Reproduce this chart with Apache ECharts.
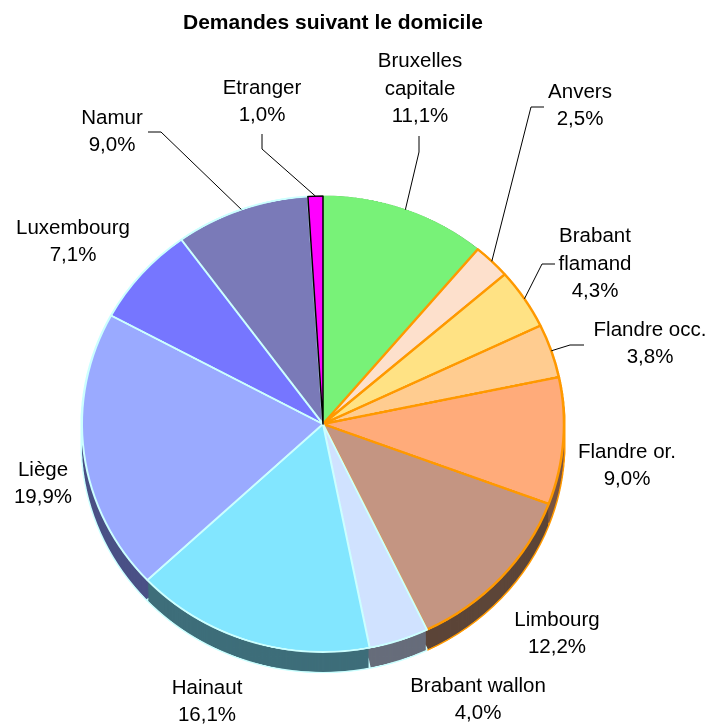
<!DOCTYPE html>
<html>
<head>
<meta charset="utf-8">
<script src="https://cdn.jsdelivr.net/npm/echarts@6/dist/echarts.min.js"></script>
<style>
  html, body { margin: 0; padding: 0; background: #ffffff; }
  #wrap { position: relative; width: 719px; height: 727px; overflow: hidden; }
  #disc, #labels { position: absolute; left: 0; top: 0; width: 719px; height: 727px; }
  /* the disc is seen slightly from above: flatten it vertically around its centre */
  #disc { transform: scaleY(0.946); transform-origin: 0 424px; }
</style>
</head>
<body>
<div id="wrap">
  <div id="disc"></div>
  <div id="labels"></div>
</div>
<script>
// Requests by place of residence (share of total, %)
const categories = ['Bruxelles capitale', 'Anvers', 'Brabant flamand', 'Flandre occ.', 'Flandre or.',
  'Limbourg', 'Brabant wallon', 'Hainaut', 'Liège', 'Luxembourg', 'Namur', 'Etranger'];
const shares = [11.1, 2.5, 4.3, 3.8, 9.0, 12.2, 4.0, 16.1, 19.9, 7.1, 9.0, 1.0];

// Two-line labels break the name at its space
const wrapped = ['Bruxelles capitale', 'Brabant flamand'];

// Slice styling
const topColors = ['#78f278', '#fde0cc', '#ffe284', '#ffcc90', '#ffab7a', '#c49582',
  '#d0e2ff', '#82e6ff', '#9aaaff', '#7676ff', '#7a7ab8', '#ff00ff'];
const sideColors = ['#3c7a3c', '#7a6a60', '#7a6a40', '#7a6040', '#7a5440', '#5c4538',
  '#676d7b', '#3e6e7a', '#4a5186', '#38387a', '#3a3a5c', '#7a007a'];
const edgeColors = ['#78f278', '#ff9900', '#ff9900', '#ff9900', '#ff9900', '#ff9900',
  '#ccffff', '#ccffff', '#ccffff', '#ccffff', '#ccffff', '#000000'];
const edgeWidths = [1, 2.5, 2.5, 2.5, 2.5, 2.5, 2, 2, 2, 2, 2, 1.5];
const sideEdgeColors = ['#3c7a3c', '#ff9900', '#ff9900', '#ff9900', '#ff9900', '#ff9900',
  '#ccffff', '#ccffff', '#ccffff', '#ccffff', '#ccffff', '#000000'];

// Label placement (text block centres) and leader-line elbows
const labelCenters = [[420, 89], [580, 106], [595, 264], [650, 344], [627, 466], [557, 634],
  [478, 700], [207, 702], [43, 484], [73, 242], [112, 132], [262, 102]];
const leaderBends = [[[419, 152], [419, 136]], [[531, 107], [544, 107]], [[542, 264], [555, 264]],
  [[570, 345], [584, 345]], null, null, null, null, null, null,
  [[161, 132], [148, 132]], [[262, 149], [262, 134]]];

const CX = 323, CY = 424, R = 241, FLAT = 0.946, DEPTH = 21;
const FONT = 'Arial, "Liberation Sans", sans-serif';

function fmtPct(v) { return v.toFixed(1).replace('.', ',') + '%'; }

// ---- Disc: top face plus extruded side ----
const discSeries = [];
// Edge colour showing through the gaps of the side (slice separators + rim)
for (let k = DEPTH; k >= 1; k--) {
  discSeries.push({
    type: 'pie', silent: true, z: 1, animation: false,
    center: [CX, CY + k], radius: R + 1.5, startAngle: 90, clockwise: true,
    label: { show: false }, labelLine: { show: false },
    emphasis: { disabled: true },
    data: categories.map((n, i) => ({ name: n, value: shares[i], itemStyle: { color: sideEdgeColors[i] } }))
  });
}
// Darker side wall
for (let k = DEPTH; k >= 1; k--) {
  discSeries.push({
    type: 'pie', silent: true, z: 2, animation: false,
    center: [CX, CY + k], radius: R, startAngle: 90, clockwise: true, padAngle: 0.5,
    label: { show: false }, labelLine: { show: false },
    emphasis: { disabled: true },
    data: categories.map((n, i) => ({ name: n, value: shares[i], itemStyle: { color: sideColors[i] } }))
  });
}
// Top face
discSeries.push({
  type: 'pie', silent: true, z: 3, animation: false,
  center: [CX, CY], radius: R, startAngle: 90, clockwise: true,
  label: { show: false }, labelLine: { show: false },
  emphasis: { disabled: true },
  data: categories.map((n, i) => ({
    name: n, value: shares[i],
    itemStyle: { color: topColors[i], borderColor: edgeColors[i], borderWidth: edgeWidths[i] }
  }))
});

const disc = echarts.init(document.getElementById('disc'), null, { renderer: 'canvas', devicePixelRatio: 2 });
disc.setOption({ animation: false, series: discSeries });

// ---- Title and labels (same pie geometry, invisible slices) ----
const labels = echarts.init(document.getElementById('labels'), null, { renderer: 'canvas' });
labels.setOption({
  animation: false,
  title: {
    text: 'Demandes suivant le domicile',
    left: 178, top: 8,
    textStyle: { fontFamily: FONT, fontSize: 21, fontWeight: 'bold', color: '#000' }
  },
  series: [{
    type: 'pie', silent: true, animation: false,
    center: [CX, CY], radius: R, startAngle: 90, clockwise: true,
    avoidLabelOverlap: false,
    emphasis: { disabled: true },
    itemStyle: { color: 'rgba(0,0,0,0)' },
    label: {
      show: true, position: 'outside', color: '#000', fontFamily: FONT, fontSize: 20.5,
      lineHeight: 27.5, align: 'center',
      formatter: p => (wrapped.includes(p.name) ? p.name.replace(' ', '\n') : p.name) + '\n' + fmtPct(p.value)
    },
    labelLine: { show: true, lineStyle: { color: '#000', width: 1 } },
    labelLayout: function (p) {
      const i = p.dataIndex;
      const c = labelCenters[i];
      const res = { x: c[0], y: c[1], align: 'center', verticalAlign: 'middle' };
      const b = leaderBends[i];
      if (b && p.labelLinePoints) {
        const e = p.labelLinePoints[0];
        // leader starts on the flattened rim
        res.labelLinePoints = [[e[0], CY + (e[1] - CY) * FLAT], b[0], b[1]];
      }
      return res;
    },
    data: categories.map((n, i) => ({
      name: n, value: shares[i],
      labelLine: { show: !!leaderBends[i] }
    }))
  }]
});
</script>
</body>
</html>
